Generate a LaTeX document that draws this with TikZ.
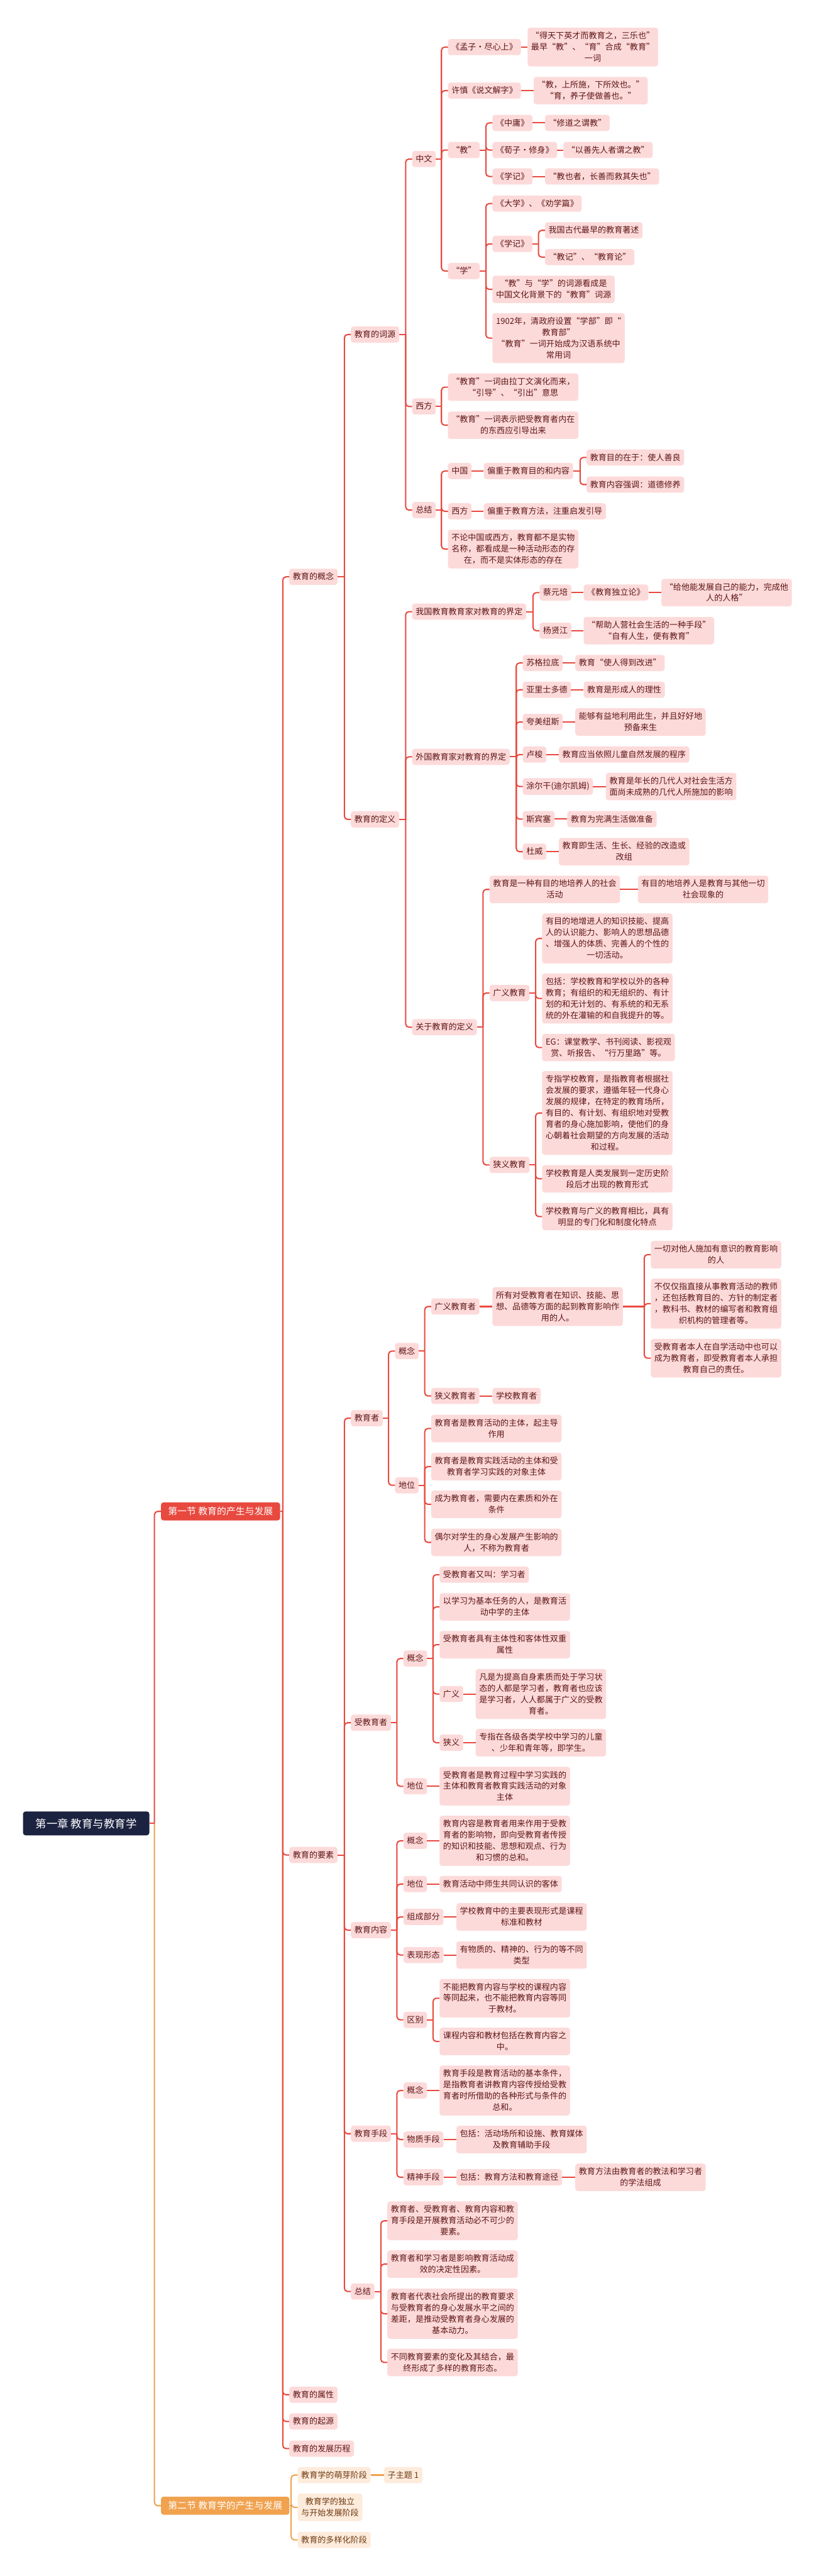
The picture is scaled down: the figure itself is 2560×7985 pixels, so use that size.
\documentclass[tikz,border=0pt]{standalone}
\usepackage{fontspec}
\setmainfont{Noto Sans CJK SC}
\definecolor{linered}{HTML}{E8493F}
\definecolor{lineor}{HTML}{F0A24F}
\definecolor{boxpink}{HTML}{FDDADA}
\definecolor{txtred}{HTML}{5E1616}
\definecolor{peach}{HTML}{FDEBDC}
\definecolor{txtbrown}{HTML}{6E3A10}
\definecolor{navy}{HTML}{1C2340}
\newcommand\mystrut{\rule[-3.5pt]{0pt}{25pt}}
\newcommand\mmlink[3][linered]{%
  \path (#3.west) ++(-20pt,0pt) coordinate (mmj);
  \draw[#1,line width=4pt] (#2.east) -- (mmj |- #2.east);
  \draw[#1,line width=4pt,rounded corners=10pt] (mmj |- #2.east) |- (#3.west);
}
\newcommand\mmline[3][linered]{%
  \draw[#1,line width=4pt] (#2.east) -- (#3.west);
}
\tikzset{
  bx/.style={rectangle, rounded corners=8pt, fill=boxpink, text=txtred,
    inner xsep=11pt, inner ysep=12.5pt, align=center, anchor=west,
    font=\fontsize{25.5pt}{35pt}\selectfont,
    execute at begin node=\mystrut, execute at end node=\mystrut},
  bo/.style={bx, fill=peach, text=txtbrown},
  secbx/.style={rectangle, rounded corners=8pt, text=white, anchor=west,
    inner xsep=22pt, minimum height=56pt, font=\fontsize{29pt}{35pt}\selectfont},
  rootbx/.style={rectangle, rounded corners=8pt, fill=navy, text=white, anchor=west,
    minimum width=392pt, minimum height=74pt, font=\fontsize{34pt}{40pt}\selectfont},
}
\begin{document}
\begin{tikzpicture}[x=1pt,y=-1pt]
\useasboundingbox[fill=white] (0,0) rectangle (2560,7985);

% ---------- root and sections
\node[rootbx] (root) at (71,5652) {第一章 教育与教育学};
\node[secbx, fill=linered] (sec1) at (499,4685) {第一节 教育的产生与发展};
\node[secbx, fill=lineor] (sec2) at (499,7767) {第二节 教育学的产生与发展};

% ---------- level 2
\node[bx] (gnl) at (897,1788) {教育的概念};
\node[bx] (ys) at (897,5750) {教育的要素};
\node[bx] (sx) at (897,7423) {教育的属性};
\node[bx] (qy) at (897,7506) {教育的起源};
\node[bx] (lc) at (897,7590) {教育的发展历程};

\node[bo] (s2a) at (923,7672) {教育学的萌芽阶段};
\node[bo] (s2a1) at (1191,7672) {子主题 1};
\node[bo] (s2b) at (923,7772) {教育学的独立\\与开始发展阶段};
\node[bo] (s2c) at (923,7873) {教育的多样化阶段};

% ---------- level 3
\node[bx] (cy) at (1088,1037) {教育的词源};
\node[bx] (dy) at (1088,2540) {教育的定义};
\node[bx] (jyz) at (1088,4396) {教育者};
\node[bx] (sjyz) at (1088,5340) {受教育者};
\node[bx] (jynr) at (1088,5983) {教育内容};
\node[bx] (jysd) at (1088,6614) {教育手段};
\node[bx] (zjb) at (1088,7103) {总结};

% ---------- 教育的词源
\node[bx] (zw) at (1278,493) {中文};
\node[bx] (xf) at (1278,1260) {西方};
\node[bx] (zja) at (1278,1581) {总结};

\node[bx] (mz) at (1389,146) {《孟子·尽心上》};
\node[bx] (mzq) at (1636,146) {“得天下英才而教育之，三乐也”\\最早“教”、“育”合成“教育”\\一词};
\node[bx] (sw) at (1389,281) {许慎《说文解字》};
\node[bx] (swq) at (1655,281) {“教，上所施，下所效也。”\\“育，养子使做善也。”};
\node[bx] (jiao) at (1389,465) {“教”};
\node[bx] (xue) at (1389,840) {“学”};
\node[bx] (zy) at (1527,381) {《中庸》};
\node[bx] (zyq) at (1690,381) {“修道之谓教”};
\node[bx] (xz) at (1527,465) {《荀子·修身》};
\node[bx] (xzq) at (1747,465) {“以善先人者谓之教”};
\node[bx] (xj) at (1527,547) {《学记》};
\node[bx] (xjq) at (1690,547) {“教也者，长善而救其失也”};
\node[bx] (dx) at (1527,631) {《大学》、《劝学篇》};
\node[bx] (xjb) at (1527,756) {《学记》};
\node[bx] (xjb1) at (1690,714) {我国古代最早的教育著述};
\node[bx] (xjb2) at (1690,797) {“教记”、“教育论”};
\node[bx] (jx) at (1527,897) {“教”与“学”的词源看成是\\中国文化背景下的“教育”词源};
\node[bx] (n1902) at (1527,1048) {1902年，清政府设置“学部”即“\\教育部”\\“教育”一词开始成为汉语系统中\\常用词};

\node[bx] (xf1) at (1389,1200) {“教育”一词由拉丁文演化而来，\\“引导”、“引出”意思};
\node[bx] (xf2) at (1389,1318) {“教育”一词表示把受教育者内在\\的东西应引导出来};

\node[bx] (zg) at (1389,1460) {中国};
\node[bx] (pz1) at (1500,1460) {偏重于教育目的和内容};
\node[bx] (md) at (1819,1418) {教育目的在于：使人善良};
\node[bx] (nr) at (1819,1502) {教育内容强调：道德修养};
\node[bx] (xfb) at (1389,1585) {西方};
\node[bx] (pz2) at (1500,1585) {偏重于教育方法，注重启发引导};
\node[bx] (bl) at (1389,1702) {不论中国或西方，教育都不是实物\\名称，都看成是一种活动形态的存\\在，而不是实体形态的存在};

% ---------- 教育的定义
\node[bx] (wgn) at (1278,1896) {我国教育教育家对教育的界定};
\node[bx] (wgw) at (1278,2346) {外国教育家对教育的界定};
\node[bx] (gy) at (1278,3184) {关于教育的定义};

\node[bx] (cyp) at (1673,1837) {蔡元培};
\node[bx] (dlz) at (1810,1837) {《教育独立论》};
\node[bx] (cq) at (2051,1837) {“给他能发展自己的能力，完成他\\人的人格”};
\node[bx] (yxj) at (1673,1955) {杨贤江};
\node[bx] (yq) at (1810,1955) {“帮助人营社会生活的一种手段”\\“自有人生，便有教育”};

\node[bx] (f1) at (1621,2055) {苏格拉底};
\node[bx] (f1a) at (1784,2055) {教育“使人得到改进”};
\node[bx] (f2) at (1621,2138) {亚里士多德};
\node[bx] (f2a) at (1810,2138) {教育是形成人的理性};
\node[bx] (f3) at (1621,2238) {夸美纽斯};
\node[bx] (f3a) at (1784,2238) {能够有益地利用此生，并且好好地\\预备来生};
\node[bx] (f4) at (1621,2339) {卢梭};
\node[bx] (f4a) at (1733,2339) {教育应当依照儿童自然发展的程序};
\node[bx] (f5) at (1621,2438) {涂尔干(迪尔凯姆)};
\node[bx] (f5a) at (1879,2438) {教育是年长的几代人对社会生活方\\面尚未成熟的几代人所施加的影响};
\node[bx] (f6) at (1621,2539) {斯宾塞};
\node[bx] (f6a) at (1759,2539) {教育为完满生活做准备};
\node[bx] (f7) at (1621,2640) {杜威};
\node[bx] (f7a) at (1733,2640) {教育即生活、生长、经验的改造或\\改组};

\node[bx] (gd1) at (1518,2757) {教育是一种有目的地培养人的社会\\活动};
\node[bx] (gd1a) at (1978,2757) {有目的地培养人是教育与其他一切\\社会现象的};
\node[bx] (gyjy) at (1518,3078) {广义教育};
\node[bx] (g1) at (1681,2909) {有目的地增进人的知识技能、提高\\人的认识能力、影响人的思想品德\\、增强人的体质、完善人的个性的\\一切活动。};
\node[bx] (g2) at (1681,3095) {包括：学校教育和学校以外的各种\\教育；有组织的和无组织的、有计\\划的和无计划的、有系统的和无系\\统的外在灌输的和自我提升的等。};
\node[bx] (g3) at (1681,3247) {EG：课堂教学、书刊阅读、影视观\\赏、听报告、“行万里路”等。};
\node[bx] (xyjy) at (1518,3611) {狭义教育};
\node[bx] (x1) at (1681,3450) {专指学校教育，是指教育者根据社\\会发展的要求，遵循年轻一代身心\\发展的规律，在特定的教育场所，\\有目的、有计划、有组织地对受教\\育者的身心施加影响，使他们的身\\心朝着社会期望的方向发展的活动\\和过程。};
\node[bx] (x2) at (1681,3654) {学校教育是人类发展到一定历史阶\\段后才出现的教育形式};
\node[bx] (x3) at (1681,3771) {学校教育与广义的教育相比，具有\\明显的专门化和制度化特点};

% ---------- 教育者
\node[bx] (gn1) at (1225,4188) {概念};
\node[bx] (gyz) at (1337,4050) {广义教育者};
\node[bx] (gyd) at (1527,4050) {所有对受教育者在知识、技能、思\\想、品德等方面的起到教育影响作\\用的人。};
\node[bx] (e1) at (2018,3889) {一切对他人施加有意识的教育影响\\的人};
\node[bx] (e2) at (2018,4041) {不仅仅指直接从事教育活动的教师\\，还包括教育目的、方针的制定者\\，教科书、教材的编写者和教育组\\织机构的管理者等。};
\node[bx] (e3) at (2018,4210) {受教育者本人在自学活动中也可以\\成为教育者，即受教育者本人承担\\教育自己的责任。};
\node[bx] (xyz) at (1337,4327) {狭义教育者};
\node[bx] (xxz) at (1527,4327) {学校教育者};
\node[bx] (dw1) at (1225,4604) {地位};
\node[bx] (d1) at (1337,4428) {教育者是教育活动的主体，起主导\\作用};
\node[bx] (d2) at (1337,4546) {教育者是教育实践活动的主体和受\\教育者学习实践的对象主体};
\node[bx] (d3) at (1337,4663) {成为教育者，需要内在素质和外在\\条件};
\node[bx] (d4) at (1337,4781) {偶尔对学生的身心发展产生影响的\\人，不称为教育者};

% ---------- 受教育者
\node[bx] (gn2) at (1251,5141) {概念};
\node[bx] (r1) at (1363,4881) {受教育者又叫：学习者};
\node[bx] (r2) at (1363,4981) {以学习为基本任务的人，是教育活\\动中学的主体};
\node[bx] (r3) at (1363,5098) {受教育者具有主体性和客体性双重\\属性};
\node[bx] (gy2) at (1363,5251) {广义};
\node[bx] (gy2a) at (1475,5251) {凡是为提高自身素质而处于学习状\\态的人都是学习者，教育者也应该\\是学习者，人人都属于广义的受教\\育者。};
\node[bx] (xy2) at (1363,5402) {狭义};
\node[bx] (xy2a) at (1475,5402) {专指在各级各类学校中学习的儿童\\、少年和青年等，即学生。};
\node[bx] (dw2) at (1251,5537) {地位};
\node[bx] (dw2a) at (1363,5537) {受教育者是教育过程中学习实践的\\主体和教育者教育实践活动的对象\\主体};

% ---------- 教育内容
\node[bx] (gn3) at (1251,5706) {概念};
\node[bx] (gn3a) at (1363,5706) {教育内容是教育者用来作用于受教\\育者的影响物，即向受教育者传授\\的知识和技能、思想和观点、行为\\和习惯的总和。};
\node[bx] (dw3) at (1251,5840) {地位};
\node[bx] (dw3a) at (1363,5840) {教育活动中师生共同认识的客体};
\node[bx] (zc) at (1251,5942) {组成部分};
\node[bx] (zca) at (1415,5942) {学校教育中的主要表现形式是课程\\标准和教材};
\node[bx] (bxt) at (1251,6060) {表现形态};
\node[bx] (bxa) at (1415,6060) {有物质的、精神的、行为的等不同\\类型};
\node[bx] (qb) at (1251,6261) {区别};
\node[bx] (q1) at (1363,6194) {不能把教育内容与学校的课程内容\\等同起来，也不能把教育内容等同\\于教材。};
\node[bx] (q2) at (1363,6328) {课程内容和教材包括在教育内容之\\中。};

% ---------- 教育手段
\node[bx] (gn4) at (1251,6480) {概念};
\node[bx] (gn4a) at (1363,6480) {教育手段是教育活动的基本条件，\\是指教育者讲教育内容传授给受教\\育者时所借助的各种形式与条件的\\总和。};
\node[bx] (wz) at (1251,6632) {物质手段};
\node[bx] (wza) at (1415,6632) {包括：活动场所和设施、教育媒体\\及教育辅助手段};
\node[bx] (js) at (1251,6749) {精神手段};
\node[bx] (jsa) at (1415,6749) {包括：教育方法和教育途径};
\node[bx] (jsb) at (1784,6749) {教育方法由教育者的教法和学习者\\的学法组成};

% ---------- 总结
\node[bx] (t1) at (1201,6884) {教育者、受教育者、教育内容和教\\育手段是开展教育活动必不可少的\\要素。};
\node[bx] (t2) at (1201,7018) {教育者和学习者是影响教育活动成\\效的决定性因素。};
\node[bx] (t3) at (1201,7172) {教育者代表社会所提出的教育要求\\与受教育者的身心发展水平之间的\\差距，是推动受教育者身心发展的\\基本动力。};
\node[bx] (t4) at (1201,7323) {不同教育要素的变化及其结合，最\\终形成了多样的教育形态。};

% ================= connectors
\mmlink[lineor]{root}{sec2}
\mmlink{root}{sec1}
\foreach \c in {gnl,ys,sx,qy,lc} {\mmlink{sec1}{\c}}
\foreach \c in {s2a,s2b,s2c} {\mmlink[lineor]{sec2}{\c}}
\mmline[lineor]{s2a}{s2a1}

\foreach \c in {cy,dy} {\mmlink{gnl}{\c}}
\foreach \c in {zw,xf,zja} {\mmlink{cy}{\c}}
\foreach \c in {mz,sw,jiao,xue} {\mmlink{zw}{\c}}
\mmline{mz}{mzq}
\mmline{sw}{swq}
\foreach \c in {zy,xz,xj} {\mmlink{jiao}{\c}}
\mmline{zy}{zyq}
\mmline{xz}{xzq}
\mmline{xj}{xjq}
\foreach \c in {dx,xjb,jx,n1902} {\mmlink{xue}{\c}}
\foreach \c in {xjb1,xjb2} {\mmlink{xjb}{\c}}
\foreach \c in {xf1,xf2} {\mmlink{xf}{\c}}
\foreach \c in {zg,xfb,bl} {\mmlink{zja}{\c}}
\mmline{zg}{pz1}
\foreach \c in {md,nr} {\mmlink{pz1}{\c}}
\mmline{xfb}{pz2}

\foreach \c in {wgn,wgw,gy} {\mmlink{dy}{\c}}
\foreach \c in {cyp,yxj} {\mmlink{wgn}{\c}}
\mmline{cyp}{dlz}
\mmline{dlz}{cq}
\mmline{yxj}{yq}
\foreach \c in {f1,f2,f3,f4,f5,f6,f7} {\mmlink{wgw}{\c}\mmline{\c}{\c a}}
\foreach \c in {gd1,gyjy,xyjy} {\mmlink{gy}{\c}}
\mmline{gd1}{gd1a}
\foreach \c in {g1,g2,g3} {\mmlink{gyjy}{\c}}
\foreach \c in {x1,x2,x3} {\mmlink{xyjy}{\c}}

\foreach \c in {jyz,sjyz,jynr,jysd,zjb} {\mmlink{ys}{\c}}
\foreach \c in {gn1,dw1} {\mmlink{jyz}{\c}}
\foreach \c in {gyz,xyz} {\mmlink{gn1}{\c}}
\mmline{gyz}{gyd}
\foreach \c in {e1,e2,e3} {\mmlink{gyd}{\c}}
\mmline{xyz}{xxz}
\foreach \c in {d1,d2,d3,d4} {\mmlink{dw1}{\c}}

\foreach \c in {gn2,dw2} {\mmlink{sjyz}{\c}}
\foreach \c in {r1,r2,r3,gy2,xy2} {\mmlink{gn2}{\c}}
\mmline{gy2}{gy2a}
\mmline{xy2}{xy2a}
\mmline{dw2}{dw2a}

\foreach \c in {gn3,dw3,zc,bxt,qb} {\mmlink{jynr}{\c}}
\mmline{gn3}{gn3a}
\mmline{dw3}{dw3a}
\mmline{zc}{zca}
\mmline{bxt}{bxa}
\foreach \c in {q1,q2} {\mmlink{qb}{\c}}

\foreach \c in {gn4,wz,js} {\mmlink{jysd}{\c}}
\mmline{gn4}{gn4a}
\mmline{wz}{wza}
\mmline{js}{jsa}
\mmline{jsa}{jsb}

\foreach \c in {t1,t2,t3,t4} {\mmlink{zjb}{\c}}
\end{tikzpicture}
\end{document}
